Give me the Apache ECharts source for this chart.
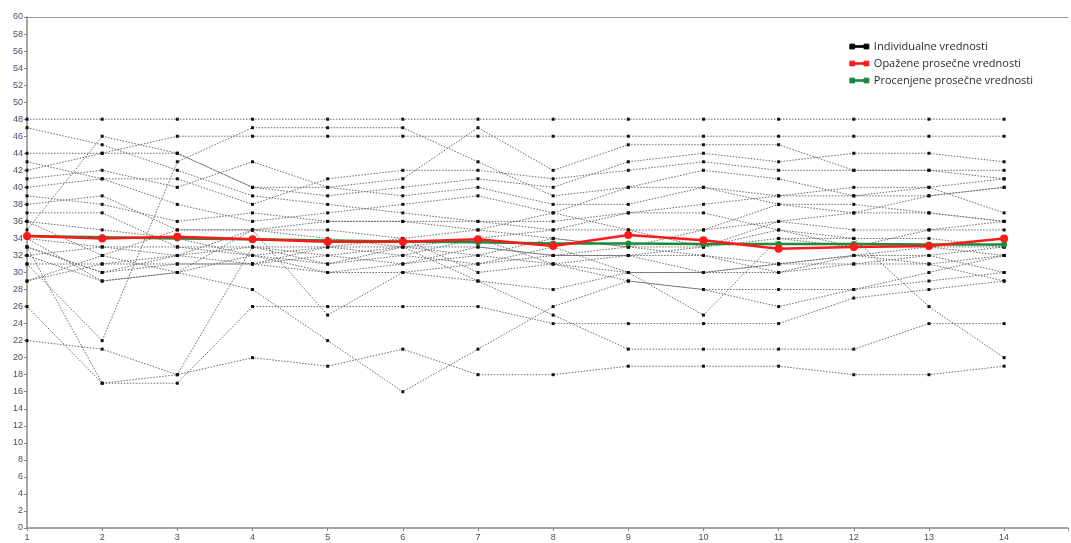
<!DOCTYPE html>
<html><head><meta charset="utf-8">
<script src="https://cdn.jsdelivr.net/npm/echarts@6/dist/echarts.min.js"></script>
<style>html,body{margin:0;padding:0;background:#fff}#c{width:1071px;height:543px}</style>
</head><body><div id="c"></div>
<script>
const timePoints = [1,2,3,4,5,6,7,8,9,10,11,12,13,14];
const individualName = 'Individualne vrednosti';
const observedName = 'Opažene prosečne vrednosti';
const estimatedName = 'Procenjene prosečne vrednosti';
const observedMeans = [34.3,34.0,34.2,33.9,33.6,33.6,33.9,33.1,34.4,33.8,32.8,33.0,33.1,34.0];
const estimatedMeans = [34.3,34.15,34.0,33.9,33.75,33.65,33.55,33.4,33.4,33.35,33.35,33.35,33.3,33.3];
const s01 = [48,48,48,48,48,48,48,48,48,48,48,48,48,48];
const s02 = [42,44,46,46,46,46,46,46,46,46,46,46,46,46];
const s03 = [35,46,44,40,40,41,47,42,45,45,45,42,42,41];
const s04 = [47,45,42,39,38,37,36,35,37,38,39,40,40,37];
const s05 = [44,44,44,40,39,40,41,40,43,44,43,44,44,43];
const s06 = [43,41,41,38,41,42,42,41,42,43,42,42,42,42];
const s07 = [31,22,43,47,47,47,43,39,40,42,41,39,39,40];
const s08 = [41,42,40,43,40,39,40,38,38,40,38,37,37,36];
const s09 = [40,41,38,36,37,38,39,37,35,35,36,35,35,35];
const s10 = [39,38,36,37,36,36,36,36,37,37,35,34,34,33];
const s11 = [38,39,35,35,35,34,35,34,33,33,34,33,33,32];
const s12 = [37,37,33,33,33,33,33,32,32,32,31,32,32,30];
const s13 = [36,35,34,32,31,32,34,31,30,30,30,31,31,29];
const s14 = [33,30,31,31,32,31,32,34,33,35,38,38,37,36];
const s15 = [32,29,30,32,30,30,31,32,32,33,36,37,39,40];
const s16 = [34,33,32,31,33,34,30,31,29,28,28,28,29,30];
const s17 = [29,31,32,35,36,36,35,37,40,40,39,39,40,41];
const s18 = [26,17,17,26,26,26,26,24,24,24,24,27,28,29];
const s19 = [22,21,18,20,19,21,18,18,19,19,19,18,18,19];
const s20 = [29,32,30,28,22,16,21,26,29,28,26,28,30,32];
const s21 = [33,17,18,33,32,33,29,28,30,30,31,32,33,33];
const s22 = [36,32,35,35,25,30,29,25,21,21,21,21,24,24];
const s23 = [33,30,32,33,31,33,32,31,32,30,31,31,32,33];
const s24 = [31,31,31,31,30,31,33,32,33,32,30,32,31,32];
const s25 = [32,33,33,32,33,32,31,33,30,25,34,34,26,20];
const s26 = [34,29,30,35,34,33,34,35,35,33,35,33,35,36];
const individuals = [s01,s02,s03,s04,s05,s06,s07,s08,s09,s10,s11,s12,s13,s14,s15,s16,s17,s18,s19,s20,s21,s22,s23,s24,s25,s26];
const yTicks = {min:0, max:60, step:2};

const pair = arr => timePoints.map((t,i)=>[t, arr[i]]);
const series = individuals.map(arr => ({
  name: individualName, type:'line', data: pair(arr),
  symbol:'rect', symbolSize:3, showSymbol:true,
  itemStyle:{color:'#111'},
  lineStyle:{color:'#6a6a6a', width:1, type:[1.5,1.5]},
  emphasis:{disabled:true}, z:2, animation:false
}));
series.push({
  name: estimatedName, type:'line', data: pair(estimatedMeans),
  symbol:'circle', symbolSize:6,
  itemStyle:{color:'#1b8a3c'}, lineStyle:{color:'#1b8a3c', width:2.5},
  z:5, animation:false
});
series.push({
  name: observedName, type:'line', data: pair(observedMeans),
  symbol:'circle', symbolSize:8,
  itemStyle:{color:'#ff1a1a'}, lineStyle:{color:'#ff1a1a', width:2.5},
  z:6, animation:false
});

const legendIcon = 'path://M0,0.5H5V5.5H0Z M15,0.5H20V5.5H15Z M2,2.2H18V3.8H2Z';
const legItem = (name, c) => ({name, icon:legendIcon,
  itemStyle:{color:c, borderColor:c, borderWidth:1, opacity:1},
  lineStyle:{color:c, width:0, opacity:0}});

const chart = echarts.init(document.getElementById('c'), null, {renderer:'canvas'});
chart.setOption({
  backgroundColor:'#fff',
  animation:false,
  grid:{left:27, right:0, top:17, bottom:15},
  legend:{
    orient:'vertical', right:33, top:36, itemGap:6, itemWidth:19, itemHeight:5,
    textStyle:{fontFamily:'Open Sans', fontSize:11, color:'#2a2a2a'},
    data:[legItem(individualName,'#000'), legItem(observedName,'#ff1a1a'), legItem(estimatedName,'#1b8a3c')]
  },
  xAxis:[{
    type:'value', min:1, max:14.85, interval:1,
    axisLine:{lineStyle:{color:'#888', width:1.5}},
    axisTick:{show:true, length:3, lineStyle:{color:'#888'}},
    splitLine:{show:false},
    axisLabel:{fontFamily:'Liberation Sans Narrow, Liberation Sans', fontSize:9, color:'#4a4a70', margin:5,
      formatter: v => Number.isInteger(v) ? String(v) : ''}
  },{
    type:'value', position:'top', min:1, max:14.85,
    axisLine:{show:true, lineStyle:{color:'#9a9a9a', width:1}},
    axisTick:{show:false}, axisLabel:{show:false}, splitLine:{show:false}
  }],
  yAxis:{
    type:'value', min:yTicks.min, max:yTicks.max, interval:yTicks.step,
    axisLine:{show:true, lineStyle:{color:'#888', width:1.5}},
    axisTick:{show:true, length:3, lineStyle:{color:'#888'}},
    splitLine:{show:false},
    axisLabel:{fontFamily:'Liberation Sans Narrow, Liberation Sans', fontSize:9, color:'#4a4a70', margin:4}
  },
  series: series
});
</script></body></html>
